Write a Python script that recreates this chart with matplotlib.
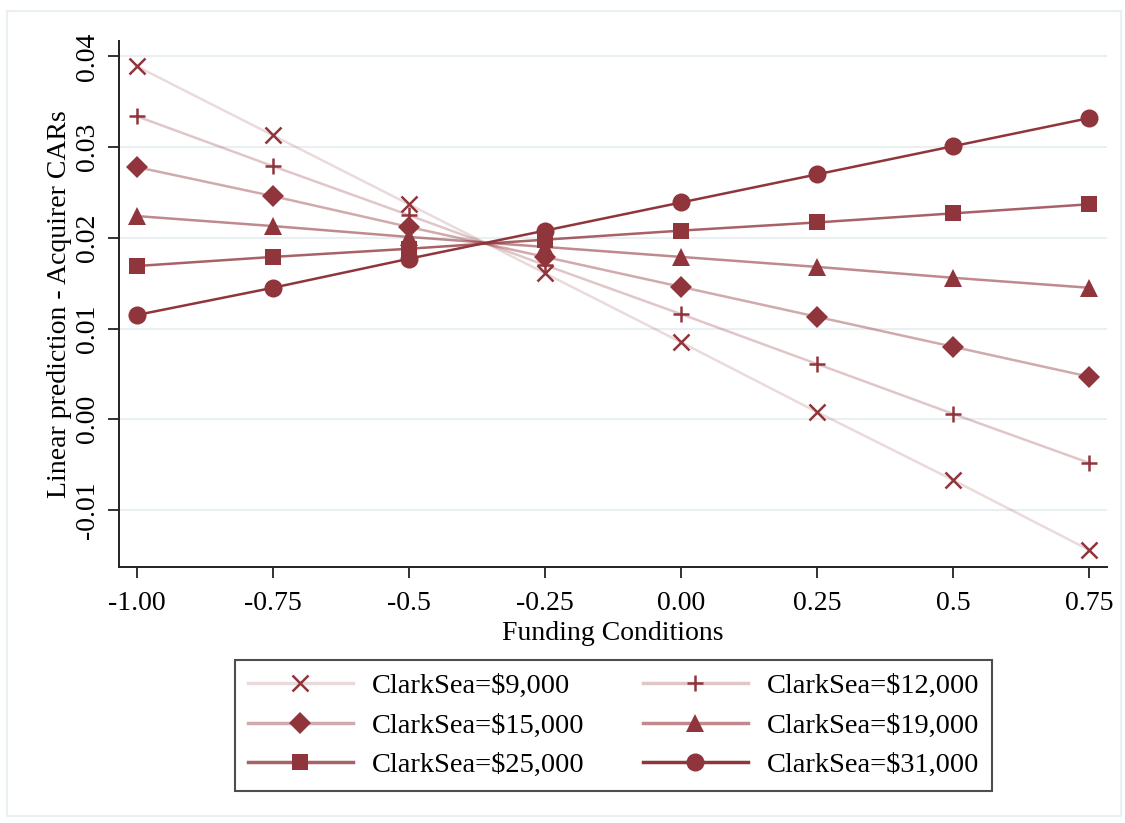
import matplotlib
matplotlib.use("Agg")
import matplotlib.pyplot as plt
import numpy as np
from matplotlib.patches import Rectangle

plt.rcParams['font.family'] = ['Liberation Serif', 'DejaVu Serif']

funding = [-1.00, -0.75, -0.5, -0.25, 0.00, 0.25, 0.5, 0.75]
x_labels = ["-1.00", "-0.75", "-0.5", "-0.25", "0.00", "0.25", "0.5", "0.75"]

cs_9000 = [0.0389, 0.0313, 0.0237, 0.0161, 0.0085, 0.0008, -0.0067, -0.0144]
cs_12000 = [0.0334, 0.0279, 0.0225, 0.0170, 0.0116, 0.0061, 0.0006, -0.0048]
cs_15000 = [0.0278, 0.0246, 0.0212, 0.0179, 0.0146, 0.0113, 0.0080, 0.0047]
cs_19000 = [0.0224, 0.0213, 0.0201, 0.0190, 0.0179, 0.0168, 0.0156, 0.0145]
cs_25000 = [0.0169, 0.0179, 0.0188, 0.0198, 0.0208, 0.0217, 0.0227, 0.0237]
cs_31000 = [0.0115, 0.0145, 0.0177, 0.0208, 0.0239, 0.0270, 0.0301, 0.0332]

y_ticks = [-0.01, 0.00, 0.01, 0.02, 0.03, 0.04]
y_labels = ["-0.01", "0.00", "0.01", "0.02", "0.03", "0.04"]

series_labels = ["ClarkSea=$9,000", "ClarkSea=$12,000", "ClarkSea=$15,000",
                 "ClarkSea=$19,000", "ClarkSea=$25,000", "ClarkSea=$31,000"]

cranberry = (144/255, 53/255, 59/255)

# (values, marker, marker size, line alpha)
styles = [
  (cs_9000, "x", 11, 0.18),
  (cs_12000, "+", 12, 0.28),
  (cs_15000, "D", 11, 0.42),
  (cs_19000, "^", 13, 0.58),
  (cs_25000, "s", 12, 0.78),
  (cs_31000, "o", 13, 1.0),
]

fig = plt.figure(figsize=(11.25, 8.23), dpi=100)
fig.patch.set_facecolor("white")
fig.patches.append(Rectangle((7/1125, 1 - 816/823), 1114/1125, 805/823,
                             transform=fig.transFigure, fill=False,
                             edgecolor="#e8f0f1", lw=1.5))

ax = fig.add_axes([119/1125, 1 - 567/823, (1107 - 119)/1125, (567 - 41)/823])

handles = []
for (vals, mk, ms, a), lab in zip(styles, series_labels):
    line_col = (*cranberry, a)
    ax.plot(funding, vals, color=line_col, lw=1.8, zorder=2)
    mew = 1.8 if mk in ("x", "+") else 0
    ax.plot(funding, vals, ls="none", marker=mk, ms=ms, color=cranberry,
            mec=cranberry, mew=mew, zorder=3)
    h, = ax.plot([], [], color=line_col, lw=2.5, marker=mk, ms=ms,
                 mfc=cranberry, mec=cranberry, mew=mew)
    handles.append(h)

ax.set_xlim(-1.033, 0.783)
ax.set_ylim(-0.01628, 0.0417)
ax.set_xticks(funding, labels=x_labels)
ax.set_yticks(y_ticks, labels=y_labels)
plt.setp(ax.get_yticklabels(), rotation=90, va="center")
ax.tick_params(axis="both", labelsize=20, length=8, width=1.3, color="#222222")
ax.tick_params(axis="y", pad=6)
ax.tick_params(axis="x", pad=9)

ax.grid(axis="y", color="#e8f0f1", lw=1.5, zorder=0)
ax.set_axisbelow(True)
for s in ["top", "right"]:
    ax.spines[s].set_visible(False)
for s in ["left", "bottom"]:
    ax.spines[s].set_linewidth(1.4)
    ax.spines[s].set_color("#222222")

ax.set_xlabel("Funding Conditions", fontsize=20, labelpad=4)
ax.set_ylabel("Linear prediction - Acquirer CARs", fontsize=20, labelpad=2)

# legend fills column by column, reference reads row by row
order = [0, 2, 4, 1, 3, 5]
leg = fig.legend([handles[i] for i in order], [series_labels[i] for i in order],
                 ncol=2, fontsize=20.5,
                 loc="center", bbox_to_anchor=(613.5/1125, 1 - 725.5/823),
                 numpoints=1, handlelength=3.7, handletextpad=0.66,
                 columnspacing=2.05, labelspacing=0.48, borderpad=0.45,
                 fancybox=False, frameon=True)
leg.get_frame().set_edgecolor("#222222")
leg.get_frame().set_linewidth(1.5)

fig.savefig("out.png", dpi=100, facecolor="white")
